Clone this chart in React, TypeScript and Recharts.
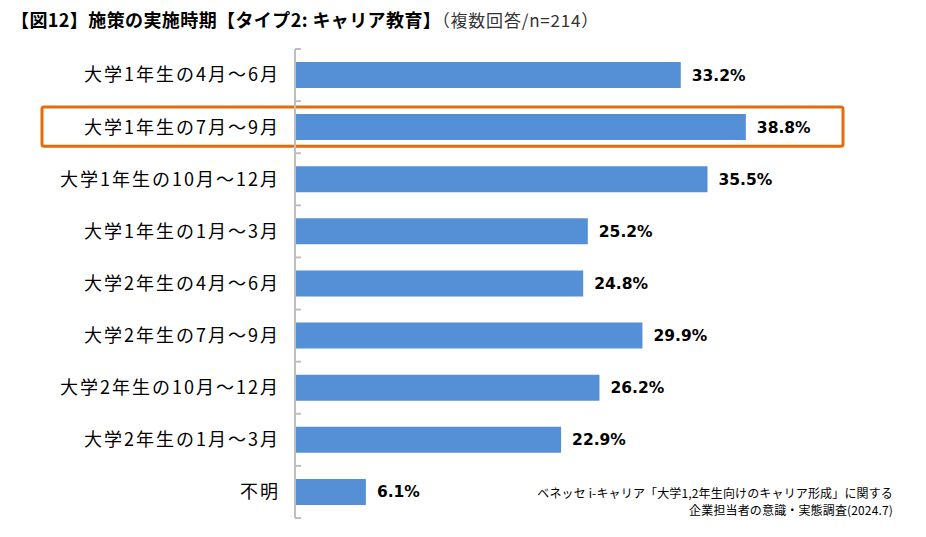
import React from 'react';
import { BarChart, Bar, XAxis, YAxis, LabelList, Customized } from 'recharts';

const categories = [
  '大学1年生の4月～6月',
  '大学1年生の7月～9月',
  '大学1年生の10月～12月',
  '大学1年生の1月～3月',
  '大学2年生の4月～6月',
  '大学2年生の7月～9月',
  '大学2年生の10月～12月',
  '大学2年生の1月～3月',
  '不明',
];
const values = [33.2, 38.8, 35.5, 25.2, 24.8, 29.9, 26.2, 22.9, 6.1];
const highlighted = '大学1年生の7月～9月';

const W = 926;
const H = 537;
const M = { top: 49, right: 50, bottom: 19, left: 0 };
const AXIS_W = 295;

const data = categories.map((c, i) => ({ name: c, value: values[i] }));

const band = (H - M.top - M.bottom) / categories.length;

// boundary ticks + orange frame around the highlighted row
function Overlay() {
  const idx = categories.indexOf(highlighted);
  const y0 = M.top + band * idx;
  const ticks = [];
  for (let i = 0; i <= categories.length; i++) {
    const y = M.top + band * i;
    ticks.push(<line key={i} x1={AXIS_W} x2={AXIS_W + 6} y1={y} y2={y} stroke="#bfbfbf" strokeWidth={2} />);
  }
  return (
    <g>
      {ticks}
      <rect x={42} y={y0 + 6} width={801} height={band - 13} rx={2} fill="none" stroke="#e46c0a" strokeWidth={3} />
    </g>
  );
}

export default function App() {
  return (
    <div style={{ position: 'absolute', left: 0, top: 0, width: W, height: H, background: '#fff' }}>
      <div style={{ position: 'absolute', left: 11, top: 6, fontFamily: '"Noto Sans CJK JP", sans-serif', whiteSpace: 'nowrap', color: '#000' }}>
        <span style={{ fontSize: 18, fontWeight: 700, letterSpacing: 0.4 }}>【図12】施策の実施時期【タイプ2: キャリア教育】</span>
        <span style={{ fontSize: 17, color: '#333', letterSpacing: 0.8 }}>（複数回答/n=214）</span>
      </div>
      <BarChart width={W} height={H} data={data} layout="vertical" margin={M} barSize={26}>
        <XAxis type="number" domain={[0, 50]} hide />
        <YAxis
          type="category"
          dataKey="name"
          width={AXIS_W}
          tickLine={false}
          tickSize={8}
          tickMargin={7}
          axisLine={{ stroke: '#bfbfbf', strokeWidth: 2 }}
          tick={{ fontSize: 18, fill: '#000', fontFamily: '"Noto Sans CJK JP", sans-serif', letterSpacing: 2 }}
          interval={0}
        />
        <Bar dataKey="value" fill="#5590d6" isAnimationActive={false}>
          <LabelList
            dataKey="value"
            position="right"
            offset={11}
            formatter={(v: number) => `${v.toFixed(1)}%`}
            style={{ fontSize: 15.5, fontWeight: 700, fill: '#000', fontFamily: '"DejaVu Sans", sans-serif' }}
          />
        </Bar>
        <Customized component={Overlay} />
      </BarChart>
      <div style={{ position: 'absolute', right: 33, top: 484, textAlign: 'right', fontSize: 12, lineHeight: '17px', fontFamily: '"Noto Sans CJK JP", sans-serif', color: '#000', letterSpacing: 0.15 }}>
        ベネッセ i-キャリア「大学1,2年生向けのキャリア形成」に関する
        <br />
        企業担当者の意識・実態調査(2024.7)
      </div>
    </div>
  );
}
